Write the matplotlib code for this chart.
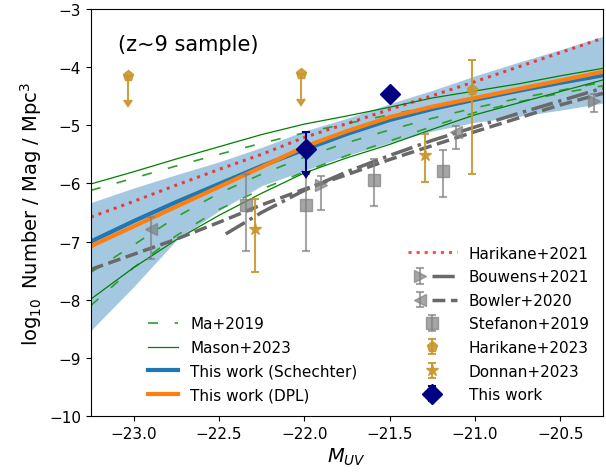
import matplotlib
matplotlib.use('Agg')
from matplotlib import pyplot as plt
from matplotlib.legend_handler import HandlerTuple

plt.rcParams['font.size'] = 11

# model curves, sampled along M_UV
M = [-23.25, -23.0, -22.75, -22.5, -22.25, -22.0, -21.75, -21.5, -21.25, -21.0, -20.75, -20.5, -20.25]
schechter = [-7.00, -6.65, -6.32, -6.01, -5.70, -5.42, -5.15, -4.91, -4.72, -4.56, -4.41, -4.27, -4.14]
schechter_hi = [-6.33, -6.08, -5.85, -5.63, -5.38, -5.10, -4.88, -4.63, -4.40, -4.15, -3.92, -3.70, -3.47]
schechter_lo = [-8.53, -7.78, -6.98, -6.47, -6.04, -5.78, -5.52, -5.30, -5.10, -4.95, -4.85, -4.74, -4.62]
dpl = [-7.08, -6.74, -6.40, -6.06, -5.72, -5.37, -5.10, -4.86, -4.68, -4.53, -4.38, -4.23, -4.08]
harikane21 = [-6.58, -6.31, -6.03, -5.76, -5.50, -5.21, -4.97, -4.73, -4.49, -4.25, -4.00, -3.75, -3.50]
ma19_hi = [-6.12, -5.91, -5.70, -5.50, -5.31, -5.13, -4.97, -4.82, -4.67, -4.53, -4.40, -4.28, -4.16]
ma19_mid = [-7.53, -7.06, -6.58, -6.17, -5.84, -5.55, -5.30, -5.08, -4.88, -4.70, -4.54, -4.40, -4.26]
ma19_lo = [-8.10, -7.45, -6.90, -6.45, -6.10, -5.80, -5.52, -5.27, -5.02, -4.78, -4.60, -4.45, -4.32]
mason23_hi = [-6.01, -5.80, -5.58, -5.37, -5.16, -4.98, -4.84, -4.69, -4.53, -4.41, -4.29, -4.15, -4.02]
mason23_lo = [-7.99, -7.45, -6.97, -6.55, -6.17, -5.82, -5.56, -5.33, -5.07, -4.82, -4.62, -4.42, -4.22]
bowler20 = [-7.48, -7.22, -6.96, -6.67, -6.37, -6.10, -5.85, -5.59, -5.35, -5.11, -4.88, -4.65, -4.45]
M_bouwens = [-22.46, -22.25, -22.0, -21.75, -21.5, -21.25, -21.0, -20.75, -20.5, -20.25]
bouwens21 = [-6.87, -6.50, -6.12, -5.80, -5.52, -5.26, -5.03, -4.80, -4.58, -4.36]

# data points
bouwens_M = [-21.90, -20.30]
bouwens_phi = [-6.02, -4.58]
bouwens_err = [[0.43, 0.19], [0.15, 0.12]]
bowler_M = [-22.90, -21.11]
bowler_phi = [-6.78, -5.12]
bowler_err = [[0.52, 0.29], [0.20, 0.11]]
stefanon_M = [-22.34, -21.99, -21.59, -21.19]
stefanon_phi = [-6.37, -6.37, -5.94, -5.78]
stefanon_err = [[0.79, 0.79, 0.45, 0.46], [0.53, 0.53, 0.36, 0.36]]
harikane23_M = [-21.02]
harikane23_phi = [-4.40]
harikane23_err = [[1.43], [0.53]]
harikane23_lim_M = [-23.03, -22.02]
harikane23_lim_phi = [-4.15, -4.12]
harikane23_lim_len = [0.42, 0.43]
donnan_M = [-22.29, -21.29]
donnan_phi = [-6.78, -5.52]
donnan_err = [[0.75, 0.45], [0.52, 0.37]]
this_M = [-21.99, -21.50]
this_phi = [-5.41, -4.47]
this_up = [0.30, 0.0]
this_lim_len = [0.37]

gold = '#c9962c'

fig = plt.figure(figsize=(6.06, 4.77), dpi=100)
ax = fig.add_axes([0.150, 0.126, 0.845, 0.853])

ax.fill_between(M, schechter_lo, schechter_hi, color='C0', alpha=0.4, lw=0)

ma_dash = (0, (6, 10))
l_ma, = ax.plot(M, ma19_hi, color='C2', lw=1.2, ls=ma_dash)
ax.plot(M, ma19_mid, color='C2', lw=1.2, ls=ma_dash)
ax.plot(M, ma19_lo, color='C2', lw=1.2, ls=ma_dash)
l_mason, = ax.plot(M, mason23_hi, color='green', lw=0.9)
ax.plot(M, mason23_lo, color='green', lw=0.9)

l_sch, = ax.plot(M, schechter, color='C0', lw=3)
l_dpl, = ax.plot(M, dpl, color='C1', lw=3)
l_har21, = ax.plot(M, harikane21, color='red', alpha=0.7, lw=2.2, ls=':')

l_bouw, = ax.plot(M_bouwens, bouwens21, color='dimgray', lw=2.5, ls='-.')
l_bowl, = ax.plot(M, bowler20, color='dimgray', lw=2.5, ls='--')

eb_kw = dict(ls='none', capsize=3, elinewidth=1.5, capthick=1.5)
e_bouw = ax.errorbar(bouwens_M, bouwens_phi, yerr=bouwens_err, fmt='>', ms=9,
                     color='gray', alpha=0.7, **eb_kw)
e_bowl = ax.errorbar(bowler_M, bowler_phi, yerr=bowler_err, fmt='<', ms=9,
                     color='gray', alpha=0.7, **eb_kw)
e_stef = ax.errorbar(stefanon_M, stefanon_phi, yerr=stefanon_err, fmt='s', ms=8,
                     color='gray', alpha=0.7, **eb_kw)
e_har23 = ax.errorbar(harikane23_M, harikane23_phi, yerr=harikane23_err, fmt='p', ms=8,
                      color=gold, alpha=0.9, **eb_kw)
ax.errorbar(harikane23_lim_M, harikane23_lim_phi, yerr=harikane23_lim_len, uplims=True,
            fmt='p', ms=8, color=gold, alpha=0.9, **eb_kw)
e_don = ax.errorbar(donnan_M, donnan_phi, yerr=donnan_err, fmt='*', ms=9,
                    color=gold, alpha=0.9, **eb_kw)
ax.errorbar(this_M[:1], this_phi[:1], yerr=this_lim_len, uplims=True,
            fmt='none', color='navy', **eb_kw)
e_this = ax.errorbar(this_M, this_phi, yerr=[[0, 0], this_up], fmt='D', ms=10,
                     color='navy', zorder=5, **eb_kw)

ax.text(0.053, 0.915, '(z~9 sample)', transform=ax.transAxes, fontsize=15, va='center')

ax.set_xlim(-23.25, -20.25)
ax.set_ylim(-10, -3)
ax.set_xlabel('$M_{UV}$', fontsize=14)
ax.set_ylabel(r'$\log_{10}$ Number / Mag / Mpc$^3$', fontsize=14)

leg1 = ax.legend([l_ma, l_mason, l_sch, l_dpl],
                 ['Ma+2019', 'Mason+2023', 'This work (Schechter)', 'This work (DPL)'],
                 loc='lower left', bbox_to_anchor=(0.084, 0.0), frameon=False,
                 labelspacing=0.56)
ax.add_artist(leg1)
ax.legend([l_har21, (e_bouw, l_bouw), (e_bowl, l_bowl), e_stef, e_har23, e_don, e_this],
          ['Harikane+2021', 'Bouwens+2021', 'Bowler+2020', 'Stefanon+2019',
           'Harikane+2023', 'Donnan+2023', 'This work'],
          loc='lower right', frameon=False, labelspacing=0.56, handlelength=3.2,
          handler_map={tuple: HandlerTuple(ndivide=None, pad=0)})

fig.savefig('out.png', dpi=100)
